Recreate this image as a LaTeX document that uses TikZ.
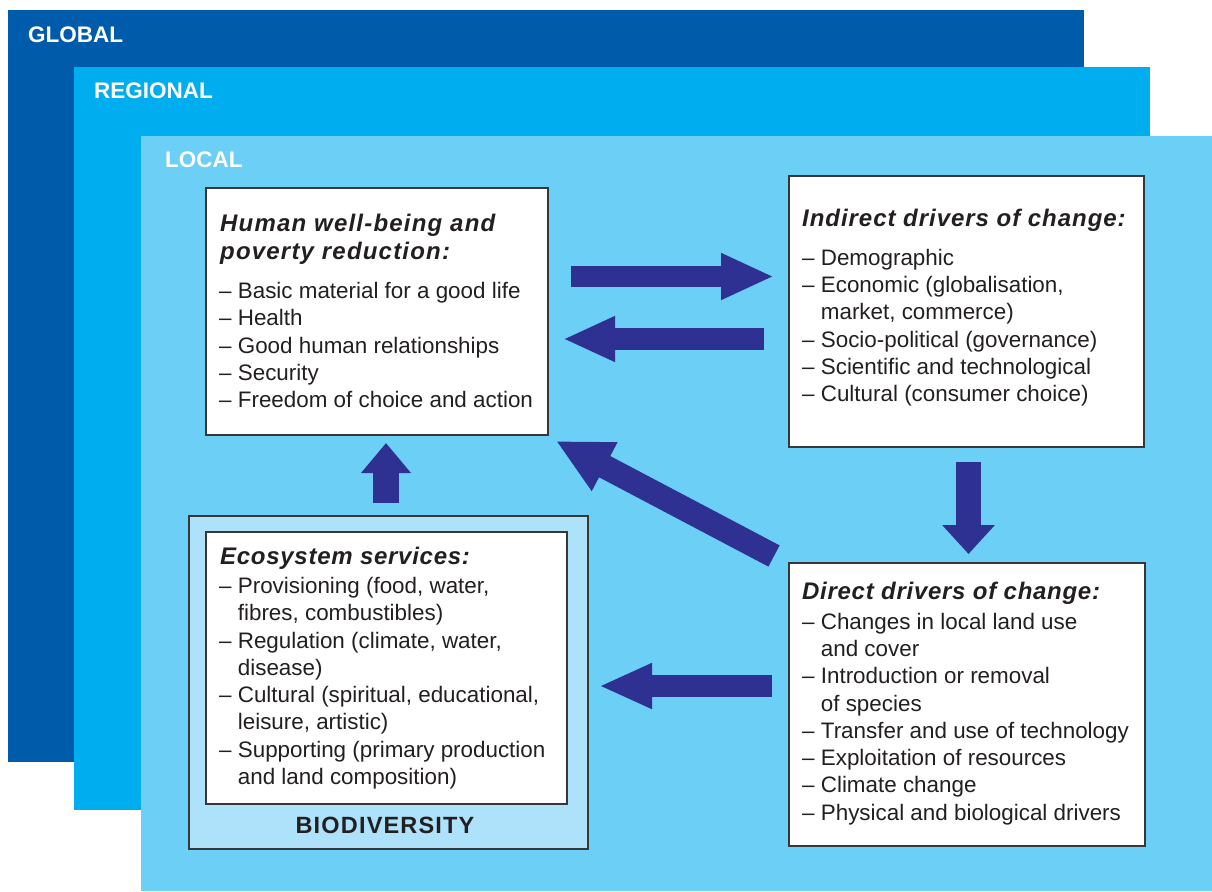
\documentclass[tikz,border=0pt]{standalone}
\usepackage{fontspec}
\setmainfont{Liberation Sans}
\usetikzlibrary{arrows.meta}
\definecolor{globalc}{RGB}{0,91,170}
\definecolor{regionalc}{RGB}{0,174,239}
\definecolor{localc}{RGB}{107,207,246}
\definecolor{biodivc}{RGB}{173,226,250}
\definecolor{arrowc}{RGB}{46,49,146}
\definecolor{textc}{RGB}{35,31,32}
\definecolor{borderc}{RGB}{55,55,55}
\newcommand{\ind}{\phantom{– }}
\begin{document}
\begin{tikzpicture}[x=1pt,y=-1pt,
  layerbox/.style={fill=#1, draw=none, anchor=north west, inner sep=0pt, outer sep=0pt},
  levellabel/.style={anchor=base west, inner sep=0pt, text=white,
    font=\fontsize{22.5}{27}\selectfont\bfseries},
  whitebox/.style={fill=white, draw=borderc, line width=2pt, anchor=north west, inner sep=0pt, outer sep=0pt},
  boxtitle/.style={anchor=base west, inner sep=0pt, align=left, text=textc,
    font=\fontsize{24}{27.6}\selectfont\bfseries\itshape\addfontfeatures{LetterSpace=#1}},
  boxtitle/.default=3,
  boxbody/.style={anchor=base west, inner sep=0pt, align=left, text=textc,
    font=\fontsize{22.4}{27.25}\selectfont},
  blockarrow/.style={draw=arrowc, line width=#1}
]
\useasboundingbox (0,0) rectangle (1212,891);

% nested scale layers
\node[layerbox=globalc, minimum width=1076pt, minimum height=752pt] (global) at (8,10) {};
\node[layerbox=regionalc, minimum width=1076pt, minimum height=743pt] (regional) at (74,67) {};
\node[layerbox=localc, minimum width=1071pt, minimum height=755pt] (local) at (141,136) {};
\node[levellabel] (globallbl) at (28,43) {GLOBAL};
\node[levellabel] (regionallbl) at (94,98) {REGIONAL};
\node[levellabel] (locallbl) at (165,167) {LOCAL};

% boxes
\node[whitebox, minimum width=342pt, minimum height=247pt] (hw) at (206,188) {};
\node[whitebox, minimum width=355pt, minimum height=271pt] (ind) at (789,176) {};
\node[whitebox, minimum width=356pt, minimum height=283pt] (dir) at (789,563) {};
\node[whitebox, fill=biodivc, minimum width=399pt, minimum height=333pt] (bio) at (189,516) {};
\node[whitebox, minimum width=361pt, minimum height=272pt] (eco) at (206,532) {};

% texts (anchored at the baseline of their last line)
\node[boxtitle=5] (hwtitle) at (220,259.3) {Human well-being and\\poverty reduction:};
\node[boxbody] (hwbody) at (219,407.7) {– Basic material for a good life\\– Health\\– Good human relationships\\– Security\\– Freedom of choice and action};

\node[boxtitle=4] (indtitle) at (802,226) {Indirect drivers of change:};
\node[boxbody] (indbody) at (802,401.7) {– Demographic\\– Economic (globalisation,\\\ind market, commerce)\\– Socio-political (governance)\\– Scientific and technological\\– Cultural (consumer choice)};

\node[boxtitle] (dirtitle) at (802,599) {Direct drivers of change:};
\node[boxbody] (dirbody) at (802,820) {– Changes in local land use\\\ind and cover\\– Introduction or removal\\\ind of species\\– Transfer and use of technology\\– Exploitation of resources\\– Climate change\\– Physical and biological drivers};

\node[boxtitle] (ecotitle) at (220,564) {Ecosystem services:};
\node[boxbody] (ecobody) at (219,784.3) {– Provisioning (food, water,\\\ind fibres, combustibles)\\– Regulation (climate, water,\\\ind disease)\\– Cultural (spiritual, educational,\\\ind leisure, artistic)\\– Supporting (primary production\\\ind and land composition)};

\node[anchor=base, inner sep=0pt, text=textc,
  font=\fontsize{23.5}{27}\selectfont\bfseries\addfontfeatures{LetterSpace=5}] (biolbl) at (385,833.3) {BIODIVERSITY};

% arrow end points
\coordinate (a1s) at (571,276.5);   \coordinate (a1e) at (774,276.5);
\coordinate (a2s) at (764,339);     \coordinate (a2e) at (563,339);
\coordinate (a3s) at (968.5,462);   \coordinate (a3e) at (968.5,554);
\coordinate (a4s) at (386,503);     \coordinate (a4e) at (386,443);
\coordinate (a5s) at (774,556);     \coordinate (a5e) at (556,441);
\coordinate (a6s) at (772,686);     \coordinate (a6e) at (599,686);

\draw[blockarrow=21.5pt, -{Triangle[length=53pt,width=43pt,color=arrowc]}] (a1s) -- (a1e);
\draw[blockarrow=22pt, -{Triangle[length=52pt,width=42pt,color=arrowc]}] (a2s) -- (a2e);
\draw[blockarrow=25pt, -{Triangle[length=29pt,width=51pt,color=arrowc]}] (a3s) -- (a3e);
\draw[blockarrow=26pt, -{Triangle[length=30pt,width=48pt,color=arrowc]}] (a4s) -- (a4e);
\draw[blockarrow=24pt, -{Triangle[length=55pt,width=51pt,color=arrowc]}] (a5s) -- (a5e);
\draw[blockarrow=22pt, -{Triangle[length=53pt,width=42pt,color=arrowc]}] (a6s) -- (a6e);
\end{tikzpicture}
\end{document}
